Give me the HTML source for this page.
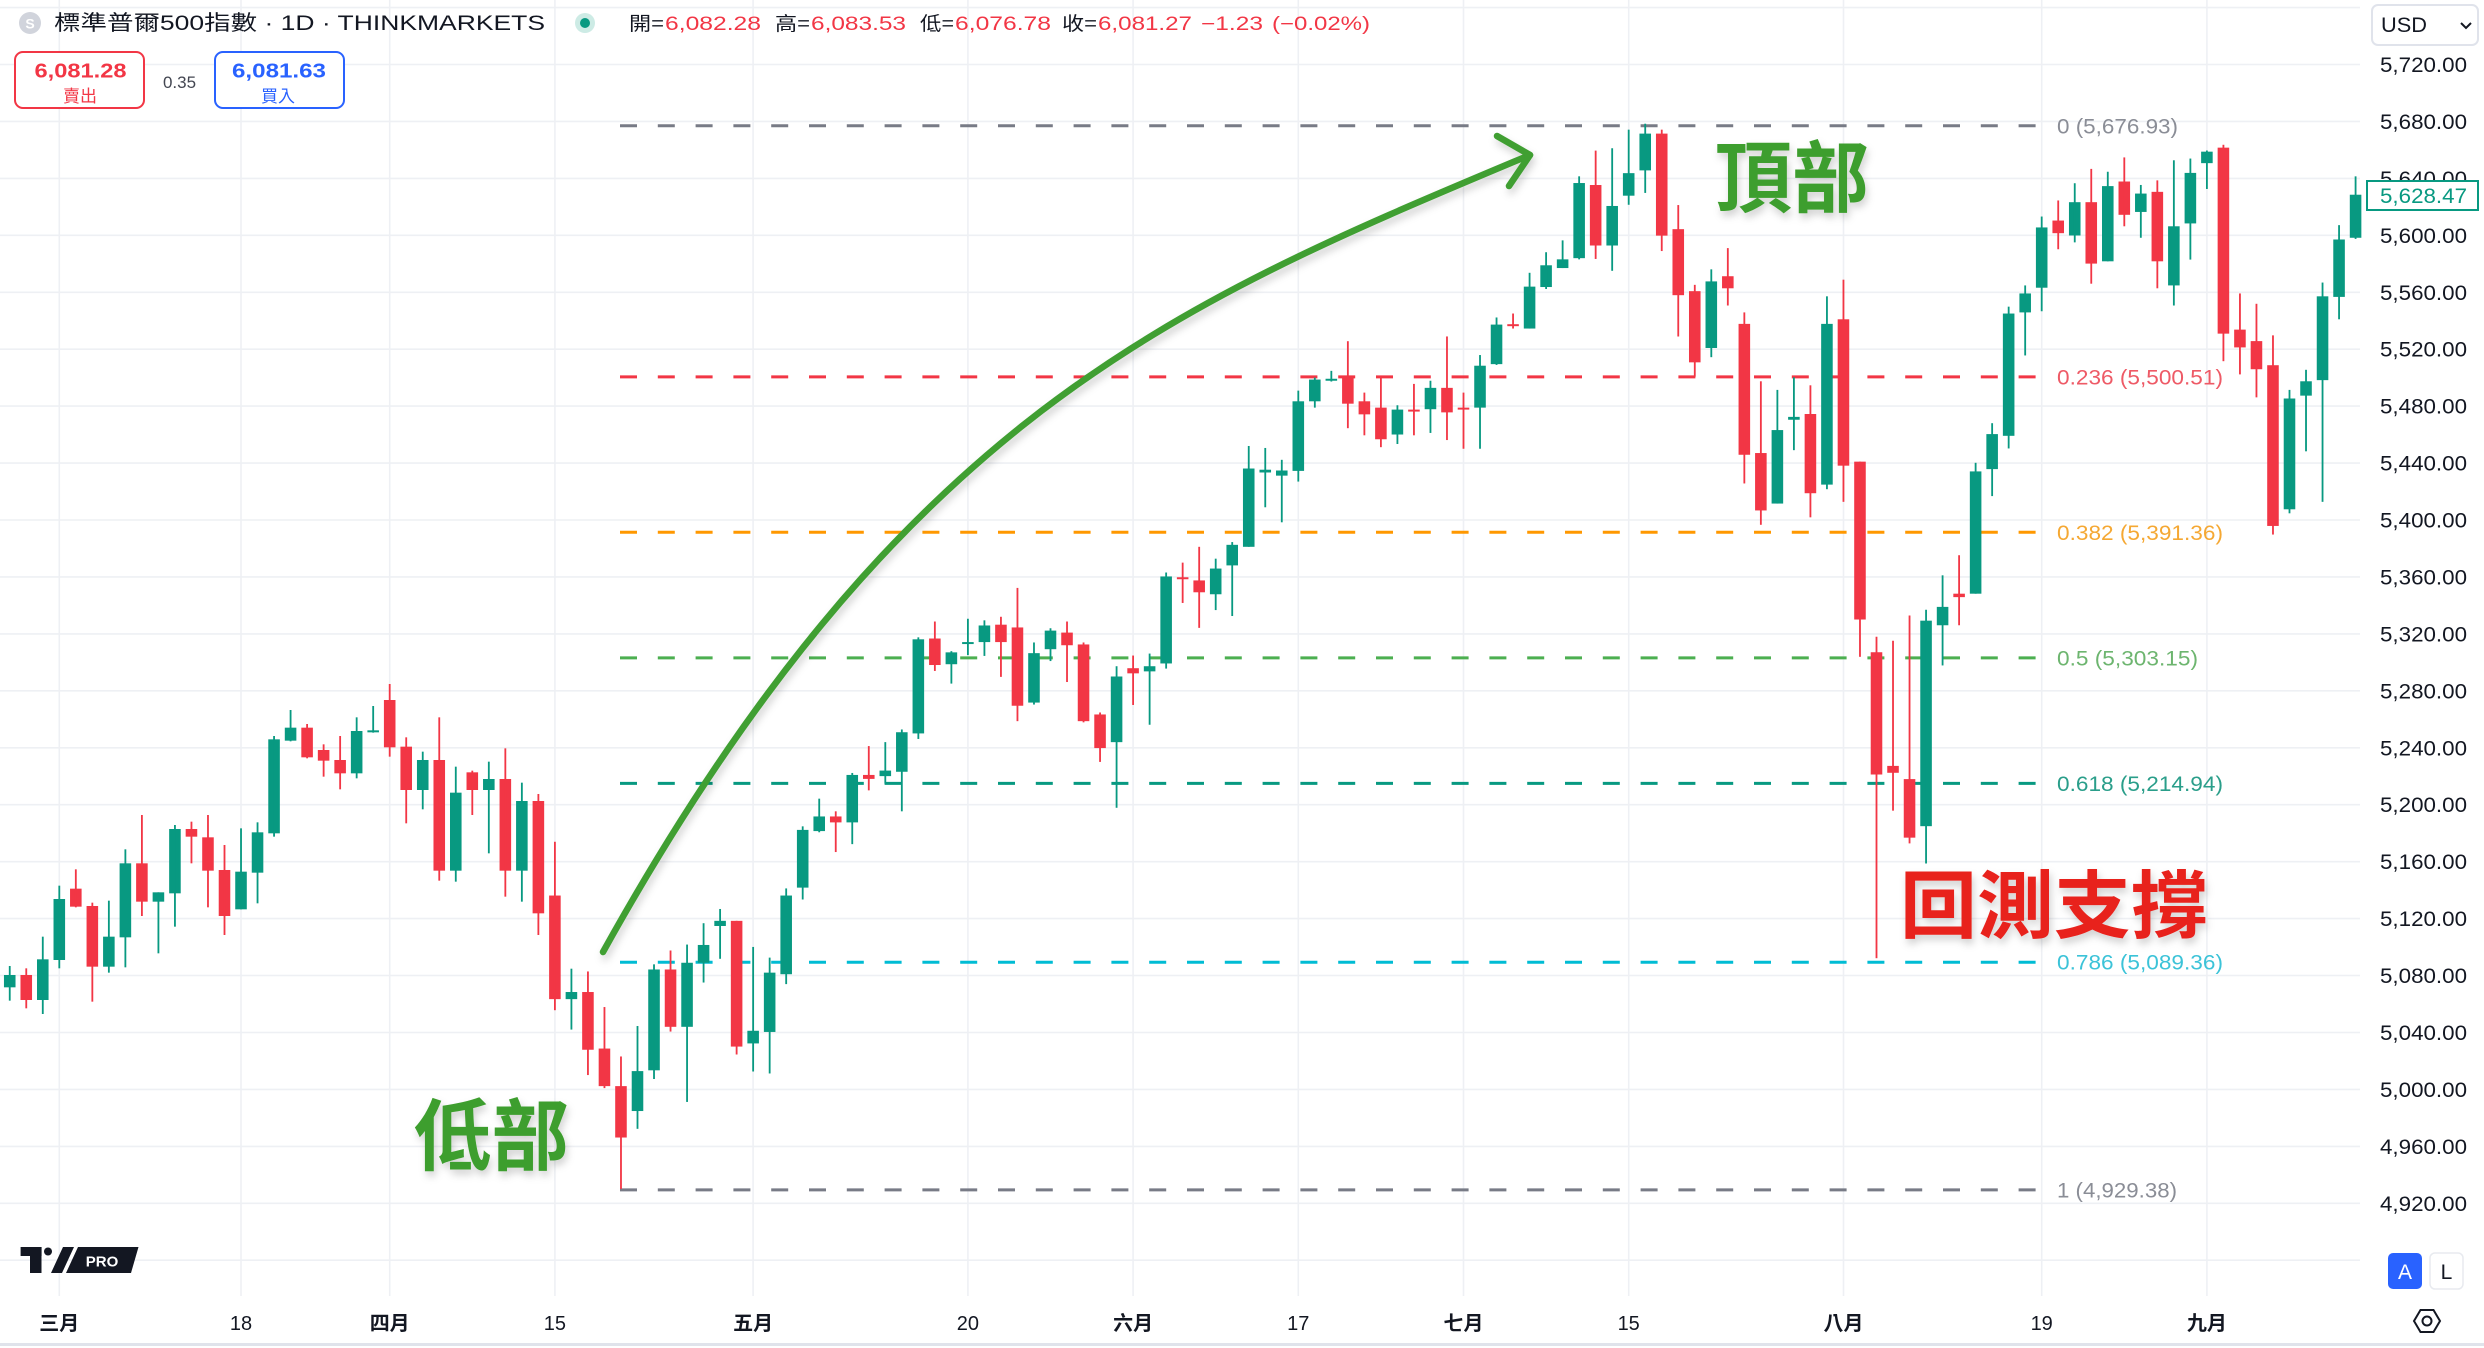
<!DOCTYPE html>
<html><head><meta charset="utf-8"><style>
html,body{margin:0;padding:0;background:#fff;}
svg{display:block;}
text{font-family:"Liberation Sans","Noto Sans CJK TC",sans-serif;}
.g{fill:#089981}.r{fill:#F23645}
.gl{stroke:#EEF0F4;stroke-width:1.6}
.ax{font-size:21px;fill:#131722}
</style></head><body>
<svg width="2484" height="1348" viewBox="0 0 2484 1348" xmlns="http://www.w3.org/2000/svg">
<defs>
<filter id="sh" x="-20%" y="-20%" width="140%" height="160%"><feDropShadow dx="2" dy="5" stdDeviation="4" flood-color="#000" flood-opacity="0.18"/></filter>
</defs>
<rect width="2484" height="1348" fill="#fff"/>
<g class="gl">
<line x1="59.3" y1="0" x2="59.3" y2="1296"/><line x1="241" y1="0" x2="241" y2="1296"/><line x1="389.7" y1="0" x2="389.7" y2="1296"/><line x1="554.9" y1="0" x2="554.9" y2="1296"/><line x1="753.1" y1="0" x2="753.1" y2="1296"/><line x1="967.9" y1="0" x2="967.9" y2="1296"/><line x1="1133.1" y1="0" x2="1133.1" y2="1296"/><line x1="1298.3" y1="0" x2="1298.3" y2="1296"/><line x1="1463.5" y1="0" x2="1463.5" y2="1296"/><line x1="1628.7" y1="0" x2="1628.7" y2="1296"/><line x1="1843.5" y1="0" x2="1843.5" y2="1296"/><line x1="2041.7" y1="0" x2="2041.7" y2="1296"/><line x1="2206.9" y1="0" x2="2206.9" y2="1296"/>
<line x1="0" y1="7.6" x2="2360" y2="7.6"/><line x1="0" y1="64.5" x2="2360" y2="64.5"/><line x1="0" y1="121.4" x2="2360" y2="121.4"/><line x1="0" y1="178.4" x2="2360" y2="178.4"/><line x1="0" y1="235.3" x2="2360" y2="235.3"/><line x1="0" y1="292.3" x2="2360" y2="292.3"/><line x1="0" y1="349.2" x2="2360" y2="349.2"/><line x1="0" y1="406.1" x2="2360" y2="406.1"/><line x1="0" y1="463.1" x2="2360" y2="463.1"/><line x1="0" y1="520" x2="2360" y2="520"/><line x1="0" y1="576.9" x2="2360" y2="576.9"/><line x1="0" y1="633.9" x2="2360" y2="633.9"/><line x1="0" y1="690.8" x2="2360" y2="690.8"/><line x1="0" y1="747.8" x2="2360" y2="747.8"/><line x1="0" y1="804.7" x2="2360" y2="804.7"/><line x1="0" y1="861.7" x2="2360" y2="861.7"/><line x1="0" y1="918.6" x2="2360" y2="918.6"/><line x1="0" y1="975.5" x2="2360" y2="975.5"/><line x1="0" y1="1032.5" x2="2360" y2="1032.5"/><line x1="0" y1="1089.4" x2="2360" y2="1089.4"/><line x1="0" y1="1146.4" x2="2360" y2="1146.4"/><line x1="0" y1="1203.3" x2="2360" y2="1203.3"/><line x1="0" y1="1260.2" x2="2360" y2="1260.2"/>
</g>
<g stroke-width="3" stroke-dasharray="17 20.8" fill="none">
<line x1="620" y1="125.8" x2="2036" y2="125.8" stroke="#787B86"/>
<line x1="620" y1="376.9" x2="2036" y2="376.9" stroke="#F23645"/>
<line x1="620" y1="532.3" x2="2036" y2="532.3" stroke="#FF9800"/>
<line x1="620" y1="657.9" x2="2036" y2="657.9" stroke="#4CAF50"/>
<line x1="620" y1="783.4" x2="2036" y2="783.4" stroke="#089981"/>
<line x1="620" y1="962.2" x2="2036" y2="962.2" stroke="#00BCD4"/>
<line x1="620" y1="1189.9" x2="2036" y2="1189.9" stroke="#787B86"/>
</g>
<g transform="matrix(16.52 0 0 0.33333 9.74 660)">
<rect class="g" x="-0.35" y="945" width=".7" height="37"/><rect class="g" x="-0.055" y="918" width=".11" height="104"/>
<rect class="r" x="0.65" y="945" width=".7" height="75"/><rect class="r" x="0.945" y="925" width=".11" height="120"/>
<rect class="g" x="1.65" y="898" width=".7" height="122"/><rect class="g" x="1.945" y="830" width=".11" height="232"/>
<rect class="g" x="2.65" y="717" width=".7" height="183"/><rect class="g" x="2.945" y="677" width=".11" height="248"/>
<rect class="r" x="3.65" y="686" width=".7" height="54"/><rect class="r" x="3.945" y="628" width=".11" height="114"/>
<rect class="r" x="4.65" y="738" width=".7" height="182"/><rect class="r" x="4.945" y="728" width=".11" height="297"/>
<rect class="g" x="5.65" y="830" width=".7" height="90"/><rect class="g" x="5.945" y="722" width=".11" height="216"/>
<rect class="g" x="6.65" y="610" width=".7" height="222"/><rect class="g" x="6.945" y="568" width=".11" height="354"/>
<rect class="r" x="7.65" y="610" width=".7" height="115"/><rect class="r" x="7.945" y="465" width=".11" height="303"/>
<rect class="g" x="8.65" y="697" width=".7" height="28"/><rect class="g" x="8.945" y="697" width=".11" height="183"/>
<rect class="g" x="9.65" y="507" width=".7" height="193"/><rect class="g" x="9.945" y="495" width=".11" height="305"/>
<rect class="r" x="10.65" y="507" width=".7" height="23"/><rect class="r" x="10.945" y="485" width=".11" height="125"/>
<rect class="r" x="11.65" y="532" width=".7" height="100"/><rect class="r" x="11.945" y="465" width=".11" height="277"/>
<rect class="r" x="12.65" y="630" width=".7" height="138"/><rect class="r" x="12.945" y="555" width=".11" height="270"/>
<rect class="g" x="13.65" y="635" width=".7" height="113"/><rect class="g" x="13.945" y="505" width=".11" height="243"/>
<rect class="g" x="14.65" y="517" width=".7" height="121"/><rect class="g" x="14.945" y="487" width=".11" height="243"/>
<rect class="g" x="15.65" y="238" width=".7" height="282"/><rect class="g" x="15.945" y="228" width=".11" height="302"/>
<rect class="g" x="16.65" y="203" width=".7" height="39"/><rect class="g" x="16.945" y="150" width=".11" height="94"/>
<rect class="r" x="17.65" y="203" width=".7" height="89"/><rect class="r" x="17.945" y="192" width=".11" height="103"/>
<rect class="r" x="18.65" y="270" width=".7" height="32"/><rect class="r" x="18.945" y="253" width=".11" height="97"/>
<rect class="r" x="19.65" y="300" width=".7" height="40"/><rect class="r" x="19.945" y="228" width=".11" height="160"/>
<rect class="g" x="20.65" y="213" width=".7" height="127"/><rect class="g" x="20.945" y="172" width=".11" height="183"/>
<rect class="g" x="21.65" y="211" width=".7" height="6"/><rect class="g" x="21.945" y="138" width=".11" height="80"/>
<rect class="r" x="22.65" y="120" width=".7" height="142"/><rect class="r" x="22.945" y="72" width=".11" height="218"/>
<rect class="r" x="23.65" y="260" width=".7" height="130"/><rect class="r" x="23.945" y="232" width=".11" height="258"/>
<rect class="g" x="24.65" y="300" width=".7" height="90"/><rect class="g" x="24.945" y="275" width=".11" height="173"/>
<rect class="r" x="25.65" y="300" width=".7" height="332"/><rect class="r" x="25.945" y="172" width=".11" height="490"/>
<rect class="g" x="26.65" y="398" width=".7" height="234"/><rect class="g" x="26.945" y="320" width=".11" height="345"/>
<rect class="r" x="27.65" y="337" width=".7" height="53"/><rect class="r" x="27.945" y="332" width=".11" height="133"/>
<rect class="g" x="28.65" y="357" width=".7" height="33"/><rect class="g" x="28.945" y="305" width=".11" height="275"/>
<rect class="r" x="29.65" y="357" width=".7" height="275"/><rect class="r" x="29.945" y="265" width=".11" height="445"/>
<rect class="g" x="30.65" y="423" width=".7" height="209"/><rect class="g" x="30.945" y="368" width=".11" height="357"/>
<rect class="r" x="31.65" y="423" width=".7" height="337"/><rect class="r" x="31.945" y="402" width=".11" height="423"/>
</g>
<g transform="matrix(16.52 0 0 0.39541 9.74 580)">
<rect class="r" x="32.65" y="798" width=".7" height="262"/><rect class="r" x="32.945" y="662" width=".11" height="426"/>
<rect class="g" x="33.65" y="1042" width=".7" height="18"/><rect class="g" x="33.945" y="983" width=".11" height="154"/>
<rect class="r" x="34.65" y="1042" width=".7" height="146"/><rect class="r" x="34.945" y="990" width=".11" height="262"/>
<rect class="r" x="35.65" y="1185" width=".7" height="95"/><rect class="r" x="35.945" y="1080" width=".11" height="205"/>
<rect class="r" x="36.65" y="1280" width=".7" height="130"/><rect class="r" x="36.945" y="1205" width=".11" height="335"/>
<rect class="g" x="37.65" y="1242" width=".7" height="101"/><rect class="g" x="37.945" y="1128" width=".11" height="260"/>
<rect class="g" x="38.65" y="985" width=".7" height="255"/><rect class="g" x="38.945" y="972" width=".11" height="290"/>
<rect class="r" x="39.65" y="985" width=".7" height="145"/><rect class="r" x="39.945" y="937" width=".11" height="205"/>
<rect class="g" x="40.65" y="968" width=".7" height="162"/><rect class="g" x="40.945" y="922" width=".11" height="398"/>
<rect class="g" x="41.65" y="923" width=".7" height="45"/><rect class="g" x="41.945" y="868" width=".11" height="150"/>
<rect class="g" x="42.65" y="862" width=".7" height="13"/><rect class="g" x="42.945" y="832" width=".11" height="126"/>
<rect class="r" x="43.65" y="862" width=".7" height="318"/><rect class="r" x="43.945" y="862" width=".11" height="338"/>
<rect class="g" x="44.65" y="1140" width=".7" height="32"/><rect class="g" x="44.945" y="928" width=".11" height="315"/>
<rect class="g" x="45.65" y="993" width=".7" height="150"/><rect class="g" x="45.945" y="955" width=".11" height="293"/>
<rect class="g" x="46.65" y="798" width=".7" height="199"/><rect class="g" x="46.945" y="780" width=".11" height="242"/>
<rect class="g" x="47.65" y="632" width=".7" height="146"/><rect class="g" x="47.945" y="623" width=".11" height="185"/>
<rect class="g" x="48.65" y="598" width=".7" height="37"/><rect class="g" x="48.945" y="553" width=".11" height="85"/>
<rect class="r" x="49.65" y="598" width=".7" height="15"/><rect class="r" x="49.945" y="585" width=".11" height="103"/>
<rect class="g" x="50.65" y="493" width=".7" height="120"/><rect class="g" x="50.945" y="488" width=".11" height="180"/>
<rect class="r" x="51.65" y="493" width=".7" height="10"/><rect class="r" x="51.945" y="420" width=".11" height="112"/>
<rect class="g" x="52.65" y="482" width=".7" height="14"/><rect class="g" x="52.945" y="410" width=".11" height="105"/>
<rect class="g" x="53.65" y="385" width=".7" height="100"/><rect class="g" x="53.945" y="378" width=".11" height="207"/>
<rect class="g" x="54.65" y="150" width=".7" height="238"/><rect class="g" x="54.945" y="145" width=".11" height="257"/>
<rect class="r" x="55.65" y="148" width=".7" height="67"/><rect class="r" x="55.945" y="105" width=".11" height="125"/>
<rect class="g" x="56.65" y="183" width=".7" height="30"/><rect class="g" x="56.945" y="180" width=".11" height="82"/>
<rect class="g" x="57.65" y="157" width=".7" height="5"/><rect class="g" x="57.945" y="98" width=".11" height="92"/>
<rect class="g" x="58.65" y="115" width=".7" height="42"/><rect class="g" x="58.945" y="102" width=".11" height="90"/>
<rect class="r" x="59.65" y="113" width=".7" height="44"/><rect class="r" x="59.945" y="93" width=".11" height="152"/>
<rect class="r" x="60.65" y="120" width=".7" height="198"/><rect class="r" x="60.945" y="20" width=".11" height="337"/>
<rect class="g" x="61.65" y="185" width=".7" height="125"/><rect class="g" x="61.945" y="158" width=".11" height="157"/>
<rect class="g" x="62.65" y="128" width=".7" height="47"/><rect class="g" x="62.945" y="122" width=".11" height="83"/>
<rect class="r" x="63.65" y="133" width=".7" height="32"/><rect class="r" x="63.945" y="105" width=".11" height="153"/>
<rect class="r" x="64.65" y="163" width=".7" height="194"/><rect class="r" x="64.945" y="158" width=".11" height="202"/>
</g>
<g transform="matrix(16.52 0 0 0.39541 9.74 100)">
<rect class="r" x="65.65" y="1554" width=".7" height="85"/><rect class="r" x="65.945" y="1549" width=".11" height="125"/>
<rect class="g" x="66.65" y="1458" width=".7" height="166"/><rect class="g" x="66.945" y="1432" width=".11" height="358"/>
<rect class="r" x="67.65" y="1437" width=".7" height="13"/><rect class="r" x="67.945" y="1405" width=".11" height="125"/>
<rect class="g" x="68.65" y="1432" width=".7" height="13"/><rect class="g" x="68.945" y="1400" width=".11" height="180"/>
<rect class="g" x="69.65" y="1205" width=".7" height="220"/><rect class="g" x="69.945" y="1195" width=".11" height="243"/>
<rect class="r" x="70.65" y="1207" width=".7" height="5"/><rect class="r" x="70.945" y="1170" width=".11" height="102"/>
<rect class="r" x="71.65" y="1215" width=".7" height="30"/><rect class="r" x="71.945" y="1130" width=".11" height="205"/>
<rect class="g" x="72.65" y="1185" width=".7" height="65"/><rect class="g" x="72.945" y="1160" width=".11" height="130"/>
<rect class="g" x="73.65" y="1125" width=".7" height="52"/><rect class="g" x="73.945" y="1118" width=".11" height="187"/>
<rect class="g" x="74.65" y="932" width=".7" height="198"/><rect class="g" x="74.945" y="875" width=".11" height="255"/>
<rect class="g" x="75.65" y="935" width=".7" height="7"/><rect class="g" x="75.945" y="880" width=".11" height="150"/>
<rect class="g" x="76.65" y="937" width=".7" height="13"/><rect class="g" x="76.945" y="910" width=".11" height="158"/>
<rect class="g" x="77.65" y="762" width=".7" height="176"/><rect class="g" x="77.945" y="735" width=".11" height="230"/>
<rect class="g" x="78.65" y="707" width=".7" height="55"/><rect class="g" x="78.945" y="702" width=".11" height="76"/>
<rect class="g" x="79.65" y="705" width=".7" height="5"/><rect class="g" x="79.945" y="685" width=".11" height="27"/>
<rect class="r" x="80.65" y="698" width=".7" height="70"/><rect class="r" x="80.945" y="610" width=".11" height="220"/>
<rect class="r" x="81.65" y="762" width=".7" height="33"/><rect class="r" x="81.945" y="740" width=".11" height="108"/>
<rect class="r" x="82.65" y="778" width=".7" height="80"/><rect class="r" x="82.945" y="698" width=".11" height="180"/>
<rect class="g" x="83.65" y="783" width=".7" height="63"/><rect class="g" x="83.945" y="772" width=".11" height="98"/>
<rect class="r" x="84.65" y="783" width=".7" height="5"/><rect class="r" x="84.945" y="718" width=".11" height="130"/>
<rect class="g" x="85.65" y="728" width=".7" height="54"/><rect class="g" x="85.945" y="710" width=".11" height="132"/>
<rect class="r" x="86.65" y="728" width=".7" height="62"/><rect class="r" x="86.945" y="598" width=".11" height="262"/>
<rect class="r" x="87.65" y="778" width=".7" height="5"/><rect class="r" x="87.945" y="740" width=".11" height="142"/>
<rect class="g" x="88.65" y="672" width=".7" height="106"/><rect class="g" x="88.945" y="645" width=".11" height="237"/>
<rect class="g" x="89.65" y="568" width=".7" height="100"/><rect class="g" x="89.945" y="550" width=".11" height="120"/>
<rect class="r" x="90.65" y="567" width=".7" height="5"/><rect class="r" x="90.945" y="540" width=".11" height="38"/>
<rect class="g" x="91.65" y="472" width=".7" height="106"/><rect class="g" x="91.945" y="437" width=".11" height="141"/>
<rect class="g" x="92.65" y="418" width=".7" height="55"/><rect class="g" x="92.945" y="385" width=".11" height="93"/>
<rect class="g" x="93.65" y="403" width=".7" height="22"/><rect class="g" x="93.945" y="355" width=".11" height="70"/>
<rect class="g" x="94.65" y="210" width=".7" height="190"/><rect class="g" x="94.945" y="193" width=".11" height="210"/>
<rect class="r" x="95.65" y="215" width=".7" height="153"/><rect class="r" x="95.945" y="128" width=".11" height="274"/>
<rect class="g" x="96.65" y="268" width=".7" height="100"/><rect class="g" x="96.945" y="122" width=".11" height="310"/>
<rect class="g" x="97.65" y="185" width=".7" height="57"/><rect class="g" x="97.945" y="75" width=".11" height="190"/>
<rect class="g" x="98.65" y="85" width=".7" height="93"/><rect class="g" x="98.945" y="60" width=".11" height="175"/>
<rect class="r" x="99.65" y="85" width=".7" height="258"/><rect class="r" x="99.945" y="75" width=".11" height="307"/>
</g>
<g transform="matrix(16.52 0 0 0.57405 9.74 100)">
<rect class="r" x="100.65" y="225" width=".7" height="115"/><rect class="r" x="100.945" y="183" width=".11" height="229"/>
<rect class="r" x="101.65" y="333" width=".7" height="124"/><rect class="r" x="101.945" y="322" width=".11" height="160"/>
<rect class="g" x="102.65" y="316" width=".7" height="116"/><rect class="g" x="102.945" y="295" width=".11" height="153"/>
<rect class="r" x="103.65" y="307" width=".7" height="21"/><rect class="r" x="103.945" y="258" width=".11" height="100"/>
<rect class="r" x="104.65" y="390" width=".7" height="228"/><rect class="r" x="104.945" y="370" width=".11" height="298"/>
<rect class="r" x="105.65" y="615" width=".7" height="100"/><rect class="r" x="105.945" y="490" width=".11" height="250"/>
<rect class="g" x="106.65" y="575" width=".7" height="128"/><rect class="g" x="106.945" y="505" width=".11" height="198"/>
<rect class="g" x="107.65" y="552" width=".7" height="5"/><rect class="g" x="107.945" y="483" width=".11" height="127"/>
<rect class="r" x="108.65" y="547" width=".7" height="138"/><rect class="r" x="108.945" y="497" width=".11" height="230"/>
<rect class="g" x="109.65" y="390" width=".7" height="280"/><rect class="g" x="109.945" y="342" width=".11" height="336"/>
<rect class="r" x="110.65" y="382" width=".7" height="255"/><rect class="r" x="110.945" y="313" width=".11" height="387"/>
<rect class="r" x="111.65" y="630" width=".7" height="275"/><rect class="r" x="111.945" y="630" width=".11" height="340"/>
<rect class="r" x="112.65" y="962" width=".7" height="213"/><rect class="r" x="112.945" y="935" width=".11" height="560"/>
<rect class="r" x="113.65" y="1160" width=".7" height="12"/><rect class="r" x="113.945" y="942" width=".11" height="296"/>
<rect class="r" x="114.65" y="1183" width=".7" height="102"/><rect class="r" x="114.945" y="898" width=".11" height="397"/>
<rect class="g" x="115.65" y="907" width=".7" height="358"/><rect class="g" x="115.945" y="888" width=".11" height="442"/>
<rect class="g" x="116.65" y="883" width=".7" height="32"/><rect class="g" x="116.945" y="828" width=".11" height="157"/>
<rect class="r" x="117.65" y="860" width=".7" height="6"/><rect class="r" x="117.945" y="793" width=".11" height="122"/>
<rect class="g" x="118.65" y="647" width=".7" height="213"/><rect class="g" x="118.945" y="632" width=".11" height="228"/>
<rect class="g" x="119.65" y="582" width=".7" height="61"/><rect class="g" x="119.945" y="563" width=".11" height="127"/>
<rect class="g" x="120.65" y="372" width=".7" height="213"/><rect class="g" x="120.945" y="360" width=".11" height="247"/>
<rect class="g" x="121.65" y="337" width=".7" height="33"/><rect class="g" x="121.945" y="323" width=".11" height="122"/>
<rect class="g" x="122.65" y="222" width=".7" height="105"/><rect class="g" x="122.945" y="203" width=".11" height="165"/>
<rect class="r" x="123.65" y="210" width=".7" height="22"/><rect class="r" x="123.945" y="175" width=".11" height="85"/>
<rect class="g" x="124.65" y="178" width=".7" height="58"/><rect class="g" x="124.945" y="145" width=".11" height="103"/>
<rect class="r" x="125.65" y="178" width=".7" height="107"/><rect class="r" x="125.945" y="120" width=".11" height="200"/>
<rect class="g" x="126.65" y="150" width=".7" height="131"/><rect class="g" x="126.945" y="125" width=".11" height="156"/>
<rect class="r" x="127.65" y="142" width=".7" height="58"/><rect class="r" x="127.945" y="100" width=".11" height="120"/>
<rect class="g" x="128.65" y="163" width=".7" height="32"/><rect class="g" x="128.945" y="148" width=".11" height="92"/>
<rect class="r" x="129.65" y="160" width=".7" height="121"/><rect class="r" x="129.945" y="140" width=".11" height="188"/>
<rect class="g" x="130.65" y="220" width=".7" height="103"/><rect class="g" x="130.945" y="105" width=".11" height="253"/>
<rect class="g" x="131.65" y="127" width=".7" height="88"/><rect class="g" x="131.945" y="102" width=".11" height="176"/>
<rect class="g" x="132.65" y="90" width=".7" height="20"/><rect class="g" x="132.945" y="88" width=".11" height="67"/>
<rect class="r" x="133.65" y="83" width=".7" height="324"/><rect class="r" x="133.945" y="78" width=".11" height="377"/>
<rect class="r" x="134.65" y="400" width=".7" height="31"/><rect class="r" x="134.945" y="337" width=".11" height="141"/>
<rect class="r" x="135.65" y="420" width=".7" height="49"/><rect class="r" x="135.945" y="355" width=".11" height="163"/>
<rect class="r" x="136.65" y="462" width=".7" height="280"/><rect class="r" x="136.945" y="410" width=".11" height="347"/>
<rect class="g" x="137.65" y="520" width=".7" height="193"/><rect class="g" x="137.945" y="505" width=".11" height="215"/>
<rect class="g" x="138.65" y="490" width=".7" height="25"/><rect class="g" x="138.945" y="470" width=".11" height="142"/>
<rect class="g" x="139.65" y="342" width=".7" height="146"/><rect class="g" x="139.945" y="318" width=".11" height="382"/>
<rect class="g" x="140.65" y="243" width=".7" height="100"/><rect class="g" x="140.945" y="218" width=".11" height="164"/>
<rect class="g" x="141.65" y="165" width=".7" height="75"/><rect class="g" x="141.945" y="133" width=".11" height="109"/>
</g>
<g font-size="21">
<text x="2057" y="133.3" fill="#8A8D96" textLength="121" lengthAdjust="spacingAndGlyphs">0 (5,676.93)</text>
<text x="2057" y="384.4" fill="#EE5A66" textLength="166" lengthAdjust="spacingAndGlyphs">0.236 (5,500.51)</text>
<text x="2057" y="539.8" fill="#F5A833" textLength="166" lengthAdjust="spacingAndGlyphs">0.382 (5,391.36)</text>
<text x="2057" y="665.4" fill="#6DB56F" textLength="141" lengthAdjust="spacingAndGlyphs">0.5 (5,303.15)</text>
<text x="2057" y="790.9" fill="#2A9E8A" textLength="166" lengthAdjust="spacingAndGlyphs">0.618 (5,214.94)</text>
<text x="2057" y="969.7" fill="#3CC3D8" textLength="166" lengthAdjust="spacingAndGlyphs">0.786 (5,089.36)</text>
<text x="2057" y="1197.4" fill="#8A8D96" textLength="120" lengthAdjust="spacingAndGlyphs">1 (4,929.38)</text>
</g>
<g filter="url(#sh)" fill="none" stroke="#3f9f31" stroke-width="6.5" stroke-linecap="round" stroke-linejoin="round">
<path d="M603,952 C903,412 1180,302 1530,155"/>
<polyline points="1497,136 1530,155 1509,186"/>
</g>
<g filter="url(#sh)" font-weight="bold">
<text x="1715" y="206" font-size="78" fill="#3e9e2e" textLength="154" lengthAdjust="spacingAndGlyphs">頂部</text>
<text x="414" y="1164" font-size="78" fill="#3e9e2e" textLength="155" lengthAdjust="spacingAndGlyphs">低部</text>
<text x="1900" y="932" font-size="74" fill="#e8201c" textLength="308" lengthAdjust="spacingAndGlyphs">回測支撐</text>
</g>
<circle cx="30" cy="23" r="11" fill="#D1D4DC"/>
<text x="30" y="28.5" font-size="14" fill="#fff" text-anchor="middle" font-weight="bold">S</text>
<text x="54" y="30" font-size="21" fill="#131722" textLength="491" lengthAdjust="spacingAndGlyphs">標準普爾500指數 · 1D · THINKMARKETS</text>
<circle cx="585" cy="23" r="10" fill="#CDEBE5"/>
<circle cx="585" cy="23" r="5" fill="#089981"/>
<g font-size="19">
<text x="629" y="30" fill="#131722" textLength="35" lengthAdjust="spacingAndGlyphs">開=</text>
<text x="665" y="30" fill="#F23645" textLength="96" lengthAdjust="spacingAndGlyphs">6,082.28</text>
<text x="775" y="30" fill="#131722" textLength="35" lengthAdjust="spacingAndGlyphs">高=</text>
<text x="811" y="30" fill="#F23645" textLength="95" lengthAdjust="spacingAndGlyphs">6,083.53</text>
<text x="920" y="30" fill="#131722" textLength="34" lengthAdjust="spacingAndGlyphs">低=</text>
<text x="955" y="30" fill="#F23645" textLength="96" lengthAdjust="spacingAndGlyphs">6,076.78</text>
<text x="1062" y="30" fill="#131722" textLength="35" lengthAdjust="spacingAndGlyphs">收=</text>
<text x="1098" y="30" fill="#F23645" textLength="94" lengthAdjust="spacingAndGlyphs">6,081.27</text>
<text x="1201" y="30" fill="#F23645" textLength="62" lengthAdjust="spacingAndGlyphs">−1.23</text>
<text x="1272" y="30" fill="#F23645" textLength="98" lengthAdjust="spacingAndGlyphs">(−0.02%)</text>
</g>
<rect x="15" y="52" width="129" height="56" rx="8" fill="#fff" stroke="#F23645" stroke-width="2"/>
<text x="80.5" y="77.5" font-size="20" font-weight="bold" fill="#F23645" text-anchor="middle" textLength="92" lengthAdjust="spacingAndGlyphs">6,081.28</text>
<text x="80" y="102" font-size="17" fill="#F23645" text-anchor="middle">賣出</text>
<text x="179.5" y="88" font-size="17" fill="#434651" text-anchor="middle">0.35</text>
<rect x="215" y="52" width="129" height="56" rx="8" fill="#fff" stroke="#2962FF" stroke-width="2"/>
<text x="279" y="77.5" font-size="20" font-weight="bold" fill="#2962FF" text-anchor="middle" textLength="94" lengthAdjust="spacingAndGlyphs">6,081.63</text>
<text x="278" y="102" font-size="17" fill="#2962FF" text-anchor="middle">買入</text>
<rect x="2372" y="5" width="106" height="40" rx="6" fill="#fff" stroke="#E0E3EB" stroke-width="2"/>
<text x="2381" y="32" class="ax" textLength="46" lengthAdjust="spacingAndGlyphs">USD</text>
<polyline points="2461,23 2466,28 2471,23" fill="none" stroke="#131722" stroke-width="2"/>
<g class="ax">
<text x="2380" y="72" textLength="87" lengthAdjust="spacingAndGlyphs">5,720.00</text>
<text x="2380" y="128.9" textLength="87" lengthAdjust="spacingAndGlyphs">5,680.00</text>
<text x="2380" y="185.9" textLength="87" lengthAdjust="spacingAndGlyphs">5,640.00</text>
<text x="2380" y="242.8" textLength="87" lengthAdjust="spacingAndGlyphs">5,600.00</text>
<text x="2380" y="299.8" textLength="87" lengthAdjust="spacingAndGlyphs">5,560.00</text>
<text x="2380" y="356.7" textLength="87" lengthAdjust="spacingAndGlyphs">5,520.00</text>
<text x="2380" y="413.6" textLength="87" lengthAdjust="spacingAndGlyphs">5,480.00</text>
<text x="2380" y="470.6" textLength="87" lengthAdjust="spacingAndGlyphs">5,440.00</text>
<text x="2380" y="527.5" textLength="87" lengthAdjust="spacingAndGlyphs">5,400.00</text>
<text x="2380" y="584.4" textLength="87" lengthAdjust="spacingAndGlyphs">5,360.00</text>
<text x="2380" y="641.4" textLength="87" lengthAdjust="spacingAndGlyphs">5,320.00</text>
<text x="2380" y="698.3" textLength="87" lengthAdjust="spacingAndGlyphs">5,280.00</text>
<text x="2380" y="755.3" textLength="87" lengthAdjust="spacingAndGlyphs">5,240.00</text>
<text x="2380" y="812.2" textLength="87" lengthAdjust="spacingAndGlyphs">5,200.00</text>
<text x="2380" y="869.2" textLength="87" lengthAdjust="spacingAndGlyphs">5,160.00</text>
<text x="2380" y="926.1" textLength="87" lengthAdjust="spacingAndGlyphs">5,120.00</text>
<text x="2380" y="983" textLength="87" lengthAdjust="spacingAndGlyphs">5,080.00</text>
<text x="2380" y="1040" textLength="87" lengthAdjust="spacingAndGlyphs">5,040.00</text>
<text x="2380" y="1096.9" textLength="87" lengthAdjust="spacingAndGlyphs">5,000.00</text>
<text x="2380" y="1153.9" textLength="87" lengthAdjust="spacingAndGlyphs">4,960.00</text>
<text x="2380" y="1210.8" textLength="87" lengthAdjust="spacingAndGlyphs">4,920.00</text>
</g>
<rect x="2367" y="181" width="111" height="29" fill="#fff" stroke="#089981" stroke-width="2"/>
<text x="2380" y="203" font-size="21" fill="#089981" textLength="87" lengthAdjust="spacingAndGlyphs">5,628.47</text>
<rect x="2388" y="1253" width="34" height="36" rx="5" fill="#2962FF"/>
<text x="2405" y="1279" font-size="21" fill="#fff" text-anchor="middle">A</text>
<rect x="2430" y="1253" width="33" height="36" rx="5" fill="#fff" stroke="#E8EAEF" stroke-width="1.5"/>
<text x="2446.5" y="1279" font-size="21" fill="#131722" text-anchor="middle">L</text>
<polygon points="2414,1321 2420.5,1310 2433.5,1310 2440,1321 2433.5,1332 2420.5,1332" fill="none" stroke="#131722" stroke-width="2"/>
<circle cx="2427" cy="1321" r="4.5" fill="none" stroke="#131722" stroke-width="2"/>
<g font-size="20" fill="#131722" text-anchor="middle">
<text x="59.3" y="1330" font-weight="bold">三月</text>
<text x="241" y="1330">18</text>
<text x="389.7" y="1330" font-weight="bold">四月</text>
<text x="554.9" y="1330">15</text>
<text x="753.1" y="1330" font-weight="bold">五月</text>
<text x="967.9" y="1330">20</text>
<text x="1133.1" y="1330" font-weight="bold">六月</text>
<text x="1298.3" y="1330">17</text>
<text x="1463.5" y="1330" font-weight="bold">七月</text>
<text x="1628.7" y="1330">15</text>
<text x="1843.5" y="1330" font-weight="bold">八月</text>
<text x="2041.7" y="1330">19</text>
<text x="2206.9" y="1330" font-weight="bold">九月</text>
</g>
<g fill="#131722">
<rect x="20.6" y="1247" width="21" height="9"/>
<rect x="30" y="1247" width="11.5" height="26"/>
<circle cx="48" cy="1251.5" r="4"/>
<polygon points="51,1273 62,1273 74,1247 63,1247"/>
<polygon points="66,1273 131,1273 138.5,1247 78,1247"/>
</g>
<text x="102" y="1266.5" font-size="15" font-weight="bold" fill="#fff" text-anchor="middle">PRO</text>
<rect x="0" y="1343" width="2484" height="3" fill="#E0E3EB"/>
</svg>
</body></html>
